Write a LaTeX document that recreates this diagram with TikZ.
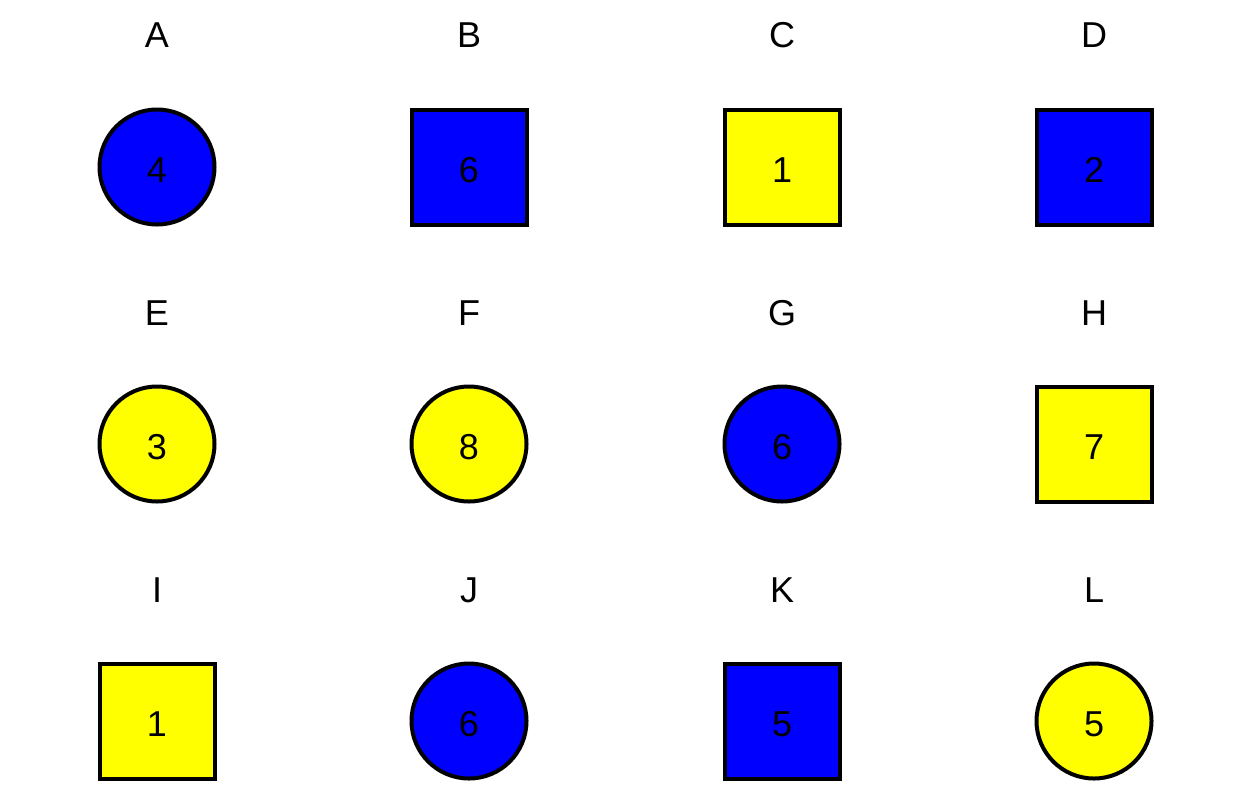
\documentclass[tikz,border=0pt]{standalone}
\usepackage{fontspec}
\setmainfont{Liberation Sans}
\begin{document}
\begin{tikzpicture}[x=1pt,y=-1pt,
  shp/.style={draw=black,line width=4pt,minimum size=115pt,inner sep=0pt},
  sq/.style={shp,rectangle},
  cir/.style={shp,circle},
  bl/.style={fill={rgb,255:red,0;green,0;blue,255}},
  yl/.style={fill={rgb,255:red,255;green,255;blue,0}},
  lbl/.style={inner sep=0pt,font=\fontsize{36}{40}\selectfont},
  num/.style={inner sep=0pt,font=\fontsize{36}{40}\selectfont}]
\useasboundingbox (0,0) rectangle (1252,801);
% labels
\node[lbl] (lA) at (157,35) {A};
\node[lbl] (lB) at (469,35) {B};
\node[lbl] (lC) at (782,35) {C};
\node[lbl] (lD) at (1094,35) {D};
\node[lbl] (lE) at (157,313) {E};
\node[lbl] (lF) at (469,313) {F};
\node[lbl] (lG) at (782,313) {G};
\node[lbl] (lH) at (1094,313) {H};
\node[lbl] (lI) at (157,590) {I};
\node[lbl] (lJ) at (469,590) {J};
\node[lbl] (lK) at (782,590) {K};
\node[lbl] (lL) at (1094,590) {L};
% shapes
\node[cir,bl] (A) at (157,167) {};
\node[sq,bl] (B) at (469,167) {};
\node[sq,yl] (C) at (782,167) {};
\node[sq,bl] (D) at (1094,167) {};
\node[cir,yl] (E) at (157,444) {};
\node[cir,yl] (F) at (469,444) {};
\node[cir,bl] (G) at (782,444) {};
\node[sq,yl] (H) at (1094,444) {};
\node[sq,yl] (I) at (157,721) {};
\node[cir,bl] (J) at (469,721) {};
\node[sq,bl] (K) at (782,721) {};
\node[cir,yl] (L) at (1094,721) {};
% numbers
\foreach \n/\v in {A/4,B/6,C/1,D/2,E/3,F/8,G/6,H/7,I/1,J/6,K/5,L/5}
  \node[num] (n\n) at ([yshift=-3pt]\n.center) {\v};
\end{tikzpicture}
\end{document}
